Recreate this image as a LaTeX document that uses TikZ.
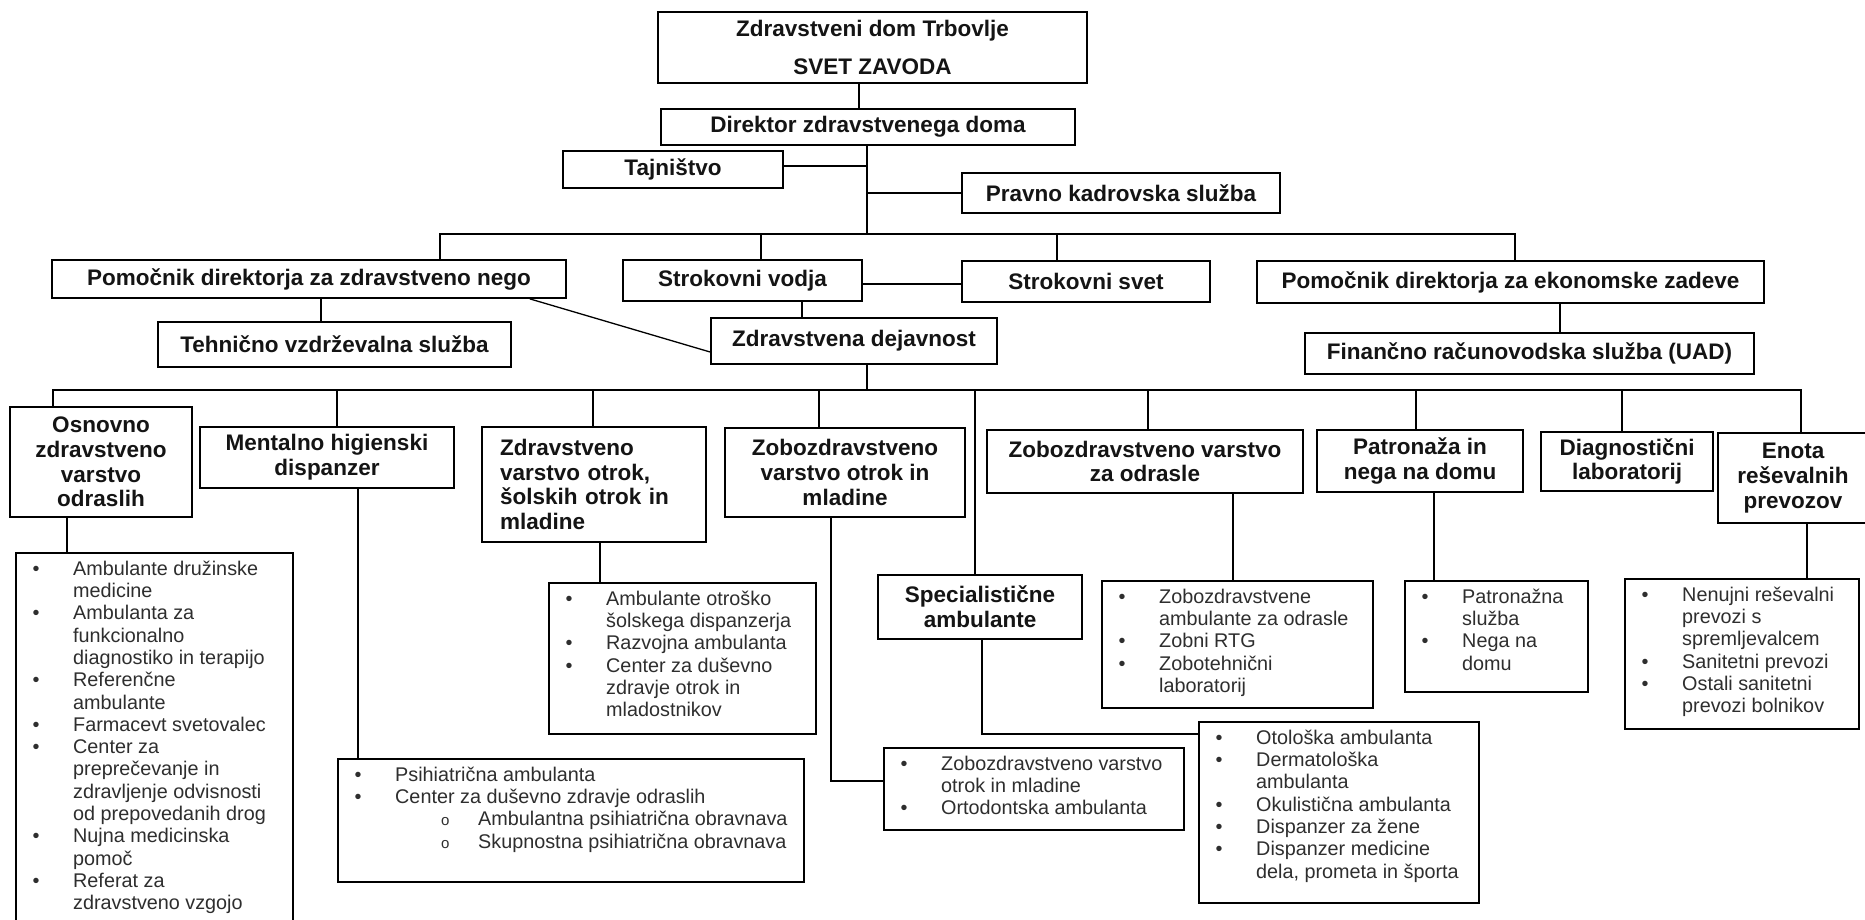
\documentclass[tikz,border=0pt]{standalone}
\usepackage{fontspec}
\setmainfont{Liberation Sans}
\newcommand{\ttlfont}{\bfseries\fontsize{22.5}{24.8}\selectfont}
\newcommand{\lstfont}{\fontsize{19.8}{22.3}\selectfont}
\newcommand{\subo}{{\fontsize{15}{15}\selectfont o}}
\newcommand{\subentry}[1]{\hspace*{46pt}\makebox[37pt][l]{\subo}#1}
\begin{document}
\begin{tikzpicture}[x=1pt,y=-1pt,
  bx/.style={draw=black, line width=1.8pt, inner sep=0pt, align=center, font=\ttlfont, text=black!92},
  lbox/.style={draw=black, line width=1.8pt, inner sep=0pt, anchor=north west},
  ltext/.style={anchor=north west, inner sep=0pt, font=\lstfont, text=black!82},
  ln/.style={line width=1.6pt, draw=black}]
\useasboundingbox (0,0) rectangle (1865,920);
\clip (0,0) rectangle (1865,920);
\fill[white] (0,0) rectangle (1865,920);

% ---------- upper part ----------
\node[bx, minimum width=429pt, minimum height=71pt] (svet) at (872.5,47.5) {Zdravstveni dom Trbovlje\\[13pt]SVET ZAVODA};
\node[bx, minimum width=414pt, minimum height=36pt] (dir) at (868,127) {Direktor zdravstvenega doma};
\node[bx, minimum width=220pt, minimum height=37pt] (taj) at (673,169.5) {Tajništvo};
\node[bx, minimum width=318pt, minimum height=40pt] (prav) at (1121,193) {Pravno kadrovska služba};
\node[bx, minimum width=514pt, minimum height=38pt] (pomz) at (309,279) {Pomočnik direktorja za zdravstveno nego};
\node[bx, minimum width=239pt, minimum height=41pt] (svod) at (742.5,280.5) {Strokovni vodja};
\node[bx, minimum width=248pt, minimum height=41pt] (ssvet) at (1086,281.5) {Strokovni svet};
\node[bx, minimum width=507pt, minimum height=42pt] (pome) at (1510.5,282) {Pomočnik direktorja za ekonomske zadeve};
\node[bx, minimum width=353pt, minimum height=45pt] (teh) at (334.5,344.5) {Tehnično vzdrževalna služba};
\node[bx, minimum width=286pt, minimum height=46pt] (zdej) at (854,341) {Zdravstvena dejavnost};
\node[bx, minimum width=449pt, minimum height=41pt] (fin) at (1529.5,353.5) {Finančno računovodska služba (UAD)};

\coordinate (b1) at (867,234);
\coordinate (b2) at (867,390);

\draw[ln] ([xshift=-13.5pt]svet.south) -- ([xshift=-13.5pt]svet.south |- dir.north);
\draw[ln] (dir.south -| b1) -- (b1);
\draw[ln] ([yshift=3.5pt]taj.east) -- ([yshift=3.5pt]taj.east -| b1);
\draw[ln] (prav.west -| b1) -- (prav.west);
\draw[ln] ([xshift=131pt]pomz.north) |- (b1) -| ([xshift=4.5pt]pome.north);
\draw[ln] ([xshift=18.5pt]svod.north) -- ([xshift=18.5pt]svod.north |- b1);
\draw[ln] ([xshift=-29pt]ssvet.north) -- ([xshift=-29pt]ssvet.north |- b1);
\draw[ln] ([yshift=-3.5pt]svod.east) -- ([yshift=-3.5pt]svod.east -| ssvet.west);
\draw[ln] ([xshift=-13.5pt]teh.north) -- ([xshift=-13.5pt]teh.north |- pomz.south);
\draw[ln, line width=1.3pt] ([xshift=-37pt]pomz.south east) -- ([yshift=-11pt]zdej.west);
\draw[ln] ([xshift=-52pt]zdej.north) -- ([xshift=-52pt]zdej.north |- svod.south);
\draw[ln] ([xshift=30.5pt]fin.north) -- ([xshift=30.5pt]fin.north |- pome.south);
\draw[ln] (zdej.south -| b2) -- (b2);

% ---------- lower row ----------
\node[bx, minimum width=182pt, minimum height=110pt] (osn) at (101,462) {Osnovno\\zdravstveno\\varstvo\\odraslih};
\node[bx, minimum width=254pt, minimum height=61pt] (men) at (327,457.5) {Mentalno higienski\\dispanzer};
\node[bx, minimum width=224pt, minimum height=115pt, text width=188pt, inner xsep=18pt, align=left] (zotr) at (594,484.5) {Zdravstveno\\varstvo otrok,\\šolskih otrok in\\mladine};
\node[bx, minimum width=240pt, minimum height=89pt] (zobo) at (845,472.5) {Zobozdravstveno\\varstvo otrok in\\mladine};
\node[bx, minimum width=204pt, minimum height=64pt] (spec) at (980,607) {Specialistične\\ambulante};
\node[bx, minimum width=316pt, minimum height=63pt] (zodr) at (1145,461.5) {Zobozdravstveno varstvo\\za odrasle};
\node[bx, minimum width=206pt, minimum height=62pt] (patr) at (1420,461) {Patronaža in\\nega na domu};
\node[bx, minimum width=172pt, minimum height=59pt] (diag) at (1627,461.5) {Diagnostični\\laboratorij};
\node[bx, minimum width=150pt, minimum height=90pt] (enota) at (1793,478) {Enota\\reševalnih\\prevozov};

\draw[ln] ([xshift=-48pt]osn.north) |- (b2) -| ([xshift=8pt]enota.north);
\draw[ln] ([xshift=10pt]men.north) -- ([xshift=10pt]men.north |- b2);
\draw[ln] ([xshift=-1pt]zotr.north) -- ([xshift=-1pt]zotr.north |- b2);
\draw[ln] ([xshift=-26pt]zobo.north) -- ([xshift=-26pt]zobo.north |- b2);
\draw[ln] ([xshift=-5pt]spec.north) -- ([xshift=-5pt]spec.north |- b2);
\draw[ln] ([xshift=3pt]zodr.north) -- ([xshift=3pt]zodr.north |- b2);
\draw[ln] ([xshift=-4pt]patr.north) -- ([xshift=-4pt]patr.north |- b2);
\draw[ln] ([xshift=-5pt]diag.north) -- ([xshift=-5pt]diag.north |- b2);

% ---------- lists ----------
\node[lbox, minimum width=277pt, minimum height=383pt] (losn) at (15,552) {};
\node[lbox, minimum width=466pt, minimum height=123pt] (lpsi) at (337,758) {};
\node[lbox, minimum width=267pt, minimum height=151pt] (lotr) at (548,582) {};
\node[lbox, minimum width=300pt, minimum height=82pt] (lzobo) at (883,747) {};
\node[lbox, minimum width=280pt, minimum height=181pt] (lspec) at (1198,721) {};
\node[lbox, minimum width=271pt, minimum height=127pt] (lzodr) at (1101,580) {};
\node[lbox, minimum width=183pt, minimum height=111pt] (lpatr) at (1404,580) {};
\node[lbox, minimum width=234pt, minimum height=150pt] (lenota) at (1624,578) {};

\node[ltext] (tosn) at ([xshift=17.5pt,yshift=-7.4pt]losn.north west) {\begin{tabular}{@{}p{40.5pt}@{}l@{}}
• & Ambulante družinske\\
  & medicine\\
• & Ambulanta za\\
  & funkcionalno\\
  & diagnostiko in terapijo\\
• & Referenčne\\
  & ambulante\\
• & Farmacevt svetovalec\\
• & Center za\\
  & preprečevanje in\\
  & zdravljenje odvisnosti\\
  & od prepovedanih drog\\
• & Nujna medicinska\\
  & pomoč\\
• & Referat za\\
  & zdravstveno vzgojo
\end{tabular}};

\node[ltext] (tpsi) at ([xshift=17.5pt,yshift=-7.4pt]lpsi.north west) {\begin{tabular}{@{}p{40.5pt}@{}l@{}}
• & Psihiatrična ambulanta\\
• & Center za duševno zdravje odraslih\\
  & \subentry{Ambulantna psihiatrična obravnava}\\
  & \subentry{Skupnostna psihiatrična obravnava}
\end{tabular}};

\node[ltext] (totr) at ([xshift=17.5pt,yshift=-7.4pt]lotr.north west) {\begin{tabular}{@{}p{40.5pt}@{}l@{}}
• & Ambulante otroško\\
  & šolskega dispanzerja\\
• & Razvojna ambulanta\\
• & Center za duševno\\
  & zdravje otrok in\\
  & mladostnikov
\end{tabular}};

\node[ltext] (tzobo) at ([xshift=17.5pt,yshift=-7.4pt]lzobo.north west) {\begin{tabular}{@{}p{40.5pt}@{}l@{}}
• & Zobozdravstveno varstvo\\
  & otrok in mladine\\
• & Ortodontska ambulanta
\end{tabular}};

\node[ltext] (tspec) at ([xshift=17.5pt,yshift=-7.4pt]lspec.north west) {\begin{tabular}{@{}p{40.5pt}@{}l@{}}
• & Otološka ambulanta\\
• & Dermatološka\\
  & ambulanta\\
• & Okulistična ambulanta\\
• & Dispanzer za žene\\
• & Dispanzer medicine\\
  & dela, prometa in športa
\end{tabular}};

\node[ltext] (tzodr) at ([xshift=17.5pt,yshift=-7.4pt]lzodr.north west) {\begin{tabular}{@{}p{40.5pt}@{}l@{}}
• & Zobozdravstvene\\
  & ambulante za odrasle\\
• & Zobni RTG\\
• & Zobotehnični\\
  & laboratorij
\end{tabular}};

\node[ltext] (tpatr) at ([xshift=17.5pt,yshift=-7.4pt]lpatr.north west) {\begin{tabular}{@{}p{40.5pt}@{}l@{}}
• & Patronažna\\
  & služba\\
• & Nega na\\
  & domu
\end{tabular}};

\node[ltext] (tenota) at ([xshift=17.5pt,yshift=-7.4pt]lenota.north west) {\begin{tabular}{@{}p{40.5pt}@{}l@{}}
• & Nenujni reševalni\\
  & prevozi s\\
  & spremljevalcem\\
• & Sanitetni prevozi\\
• & Ostali sanitetni\\
  & prevozi bolnikov
\end{tabular}};

\draw[ln] ([xshift=-34pt]osn.south) -- ([xshift=-34pt]osn.south |- losn.north);
\draw[ln] ([xshift=31pt]men.south) -- ([xshift=31pt]men.south |- lpsi.north);
\draw[ln] ([xshift=6pt]zotr.south) -- ([xshift=6pt]zotr.south |- lotr.north);
\draw[ln] ([xshift=-14pt]zobo.south) |- ([yshift=8pt]lzobo.west);
\draw[ln] ([xshift=2pt]spec.south) |- ([yshift=78.5pt]lspec.west);
\draw[ln] ([xshift=88pt]zodr.south) -- ([xshift=88pt]zodr.south |- lzodr.north);
\draw[ln] ([xshift=14pt]patr.south) -- ([xshift=14pt]patr.south |- lpatr.north);
\draw[ln] ([xshift=14pt]enota.south) -- ([xshift=14pt]enota.south |- lenota.north);
\end{tikzpicture}
\end{document}
